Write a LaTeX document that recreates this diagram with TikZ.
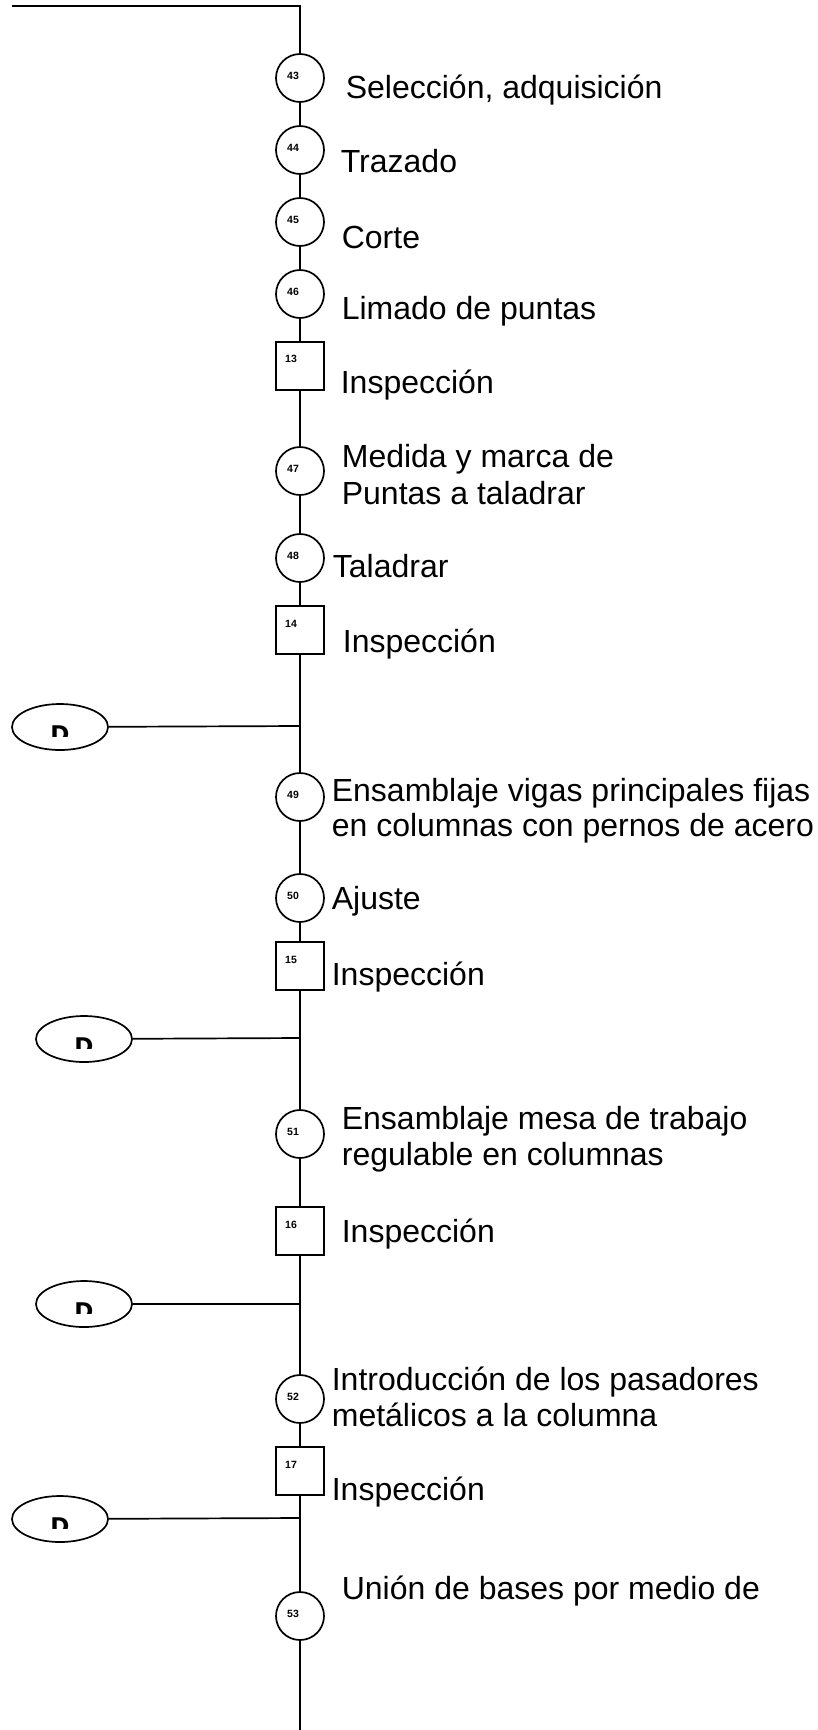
\documentclass[tikz,border=0pt]{standalone}
\usepackage{fontspec}
\setmainfont{Liberation Sans}
\newfontfamily\dfont{DejaVu Sans}
\usetikzlibrary{shapes.geometric}
\begin{document}
\begin{tikzpicture}[x=1pt,y=-1pt,line width=1.7pt,
  op/.style={circle,draw,minimum size=48pt,inner sep=0pt},
  insp/.style={rectangle,draw,minimum size=48pt,inner sep=0pt},
  dly/.style={ellipse,draw,minimum width=96pt,minimum height=46pt,inner sep=0pt},
  num/.style={font=\fontsize{10.5}{11}\selectfont\bfseries,inner sep=0pt},
  lbl/.style={anchor=base west,inner sep=0pt,font=\fontsize{32}{36}\selectfont},
  dtxt/.style={anchor=north,inner sep=0pt,font=\dfont\fontsize{23}{24}\selectfont\bfseries}]
\useasboundingbox (0,0) rectangle (818,1730);

% top line
\coordinate (tl) at (12,6);
\coordinate (tr) at (300,6);

% operations and inspections
\node[op] (c43) at (300,78) {};
\node[num] at (293,76) {43};
\node[lbl] (t43) at (345,98) {Selección, adquisición};

\node[op] (c44) at (300,150) {};
\node[num] at (293,148) {44};
\node[lbl] (t44) at (340,172) {Trazado};

\node[op] (c45) at (300,222) {};
\node[num] at (293,220) {45};
\node[lbl] (t45) at (341,248) {Corte};

\node[op] (c46) at (300,294) {};
\node[num] at (293,292) {46};
\node[lbl] (t46) at (341,319) {Limado de puntas};

\node[insp] (s13) at (300,366) {};
\node[num] at (291,359) {13};
\node[lbl] (t13) at (340,393) {Inspección};

\node[op] (c47) at (300,471) {};
\node[num] at (293,469) {47};
\node[lbl] (t47a) at (341,467) {Medida y marca de};
\node[lbl] (t47b) at (341,504) {Puntas a taladrar};

\node[op] (c48) at (300,558) {};
\node[num] at (293,556) {48};
\node[lbl] (t48) at (332,577) {Taladrar};

\node[insp] (s14) at (300,630) {};
\node[num] at (291,624) {14};
\node[lbl] (t14) at (342,652) {Inspección};

\coordinate (j1) at (300,726);
\node[dly] (d1) at (60,727) {};
\begin{scope}
\clip (30,705) rectangle (90,736);
\node[dtxt] (dt1) at (60,725) {D};
\end{scope}

\node[op] (c49) at (300,797) {};
\node[num] at (293,795) {49};
\node[lbl] (t49a) at (331,801) {Ensamblaje vigas principales fijas};
\node[lbl] (t49b) at (331,836) {en columnas con pernos de acero};

\node[op] (c50) at (300,898) {};
\node[num] at (293,896) {50};
\node[lbl] (t50) at (331,909) {Ajuste};

\node[insp] (s15) at (300,966) {};
\node[num] at (291,960) {15};
\node[lbl] (t15) at (331,985) {Inspección};

\coordinate (j2) at (300,1038);
\node[dly] (d2) at (84,1039) {};
\begin{scope}
\clip (54,1017) rectangle (114,1048);
\node[dtxt] (dt2) at (84,1037) {D};
\end{scope}

\node[op] (c51) at (300,1134) {};
\node[num] at (293,1132) {51};
\node[lbl] (t51a) at (341,1129) {Ensamblaje mesa de trabajo};
\node[lbl] (t51b) at (341,1165) {regulable en columnas};

\node[insp] (s16) at (300,1231) {};
\node[num] at (291,1225) {16};
\node[lbl] (t16) at (341,1242) {Inspección};

\coordinate (j3) at (300,1304);
\node[dly] (d3) at (84,1304) {};
\begin{scope}
\clip (54,1282) rectangle (114,1313);
\node[dtxt] (dt3) at (84,1302) {D};
\end{scope}

\node[op] (c52) at (300,1399) {};
\node[num] at (293,1397) {52};
\node[lbl] (t52a) at (331,1390) {Introducción de los pasadores};
\node[lbl] (t52b) at (331,1426) {metálicos a la columna};

\node[insp] (s17) at (300,1471) {};
\node[num] at (291,1465) {17};
\node[lbl] (t17) at (331,1500) {Inspección};

\coordinate (j4) at (300,1518);
\node[dly] (d4) at (60,1519) {};
\begin{scope}
\clip (30,1497) rectangle (90,1528);
\node[dtxt] (dt4) at (60,1517) {D};
\end{scope}

\node[op] (c53) at (300,1616) {};
\node[num] at (293,1614) {53};
\node[lbl] (t53) at (341,1599) {Unión de bases por medio de};

\coordinate (bot) at (300,1730);

% connectors
\draw (tl) -- (tr) -- (c43.north);
\draw (c43) -- (c44);
\draw (c44) -- (c45);
\draw (c45) -- (c46);
\draw (c46) -- (s13);
\draw (s13) -- (c47);
\draw (c47) -- (c48);
\draw (c48) -- (s14);
\draw (s14.south) -- (j1) -- (c49.north);
\draw (d1) -- (j1);
\draw (c49) -- (c50);
\draw (c50) -- (s15);
\draw (s15.south) -- (j2) -- (c51.north);
\draw (d2) -- (j2);
\draw (c51) -- (s16);
\draw (s16.south) -- (j3) -- (c52.north);
\draw (d3) -- (j3);
\draw (c52) -- (s17);
\draw (s17.south) -- (j4) -- (c53.north);
\draw (d4) -- (j4);
\draw (c53.south) -- (bot);
\end{tikzpicture}
\end{document}
